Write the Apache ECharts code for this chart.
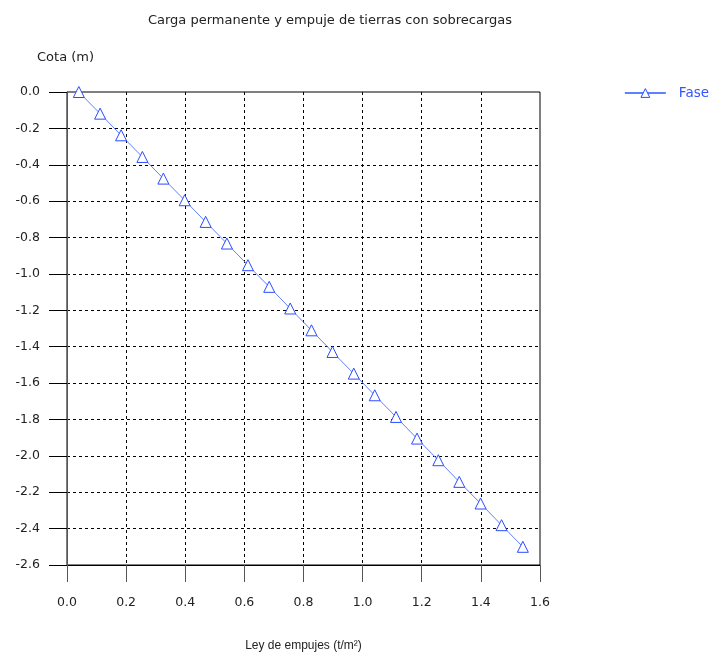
<!DOCTYPE html>
<html>
<head>
<meta charset="utf-8">
<script src="https://cdn.jsdelivr.net/npm/echarts@6/dist/echarts.min.js"></script>
<style>html,body{margin:0;padding:0;background:#fff}#c{width:715px;height:654px}</style>
</head>
<body>
<div id="c"></div>
<script>
const empuje = [0.040, 0.112, 0.183, 0.255, 0.326, 0.398, 0.469, 0.541, 0.612, 0.684, 0.755, 0.827, 0.898, 0.970, 1.041, 1.113, 1.184, 1.256, 1.327, 1.399, 1.470, 1.542];
const cota = [0.000, -0.119, -0.238, -0.357, -0.476, -0.595, -0.714, -0.833, -0.952, -1.071, -1.190, -1.310, -1.429, -1.548, -1.667, -1.786, -1.905, -2.024, -2.143, -2.262, -2.381, -2.500];
const seriesName = 'Fase';
const titleText = 'Carga permanente y empuje de tierras con sobrecargas';
const xName = 'Ley de empujes (t/m²)';
const yName = 'Cota (m)';

const chart = echarts.init(document.getElementById('c'), null, {renderer: 'canvas'});
const font = 'Liberation Sans, Arial, sans-serif';
const font2 = 'DejaVu Sans, sans-serif';
chart.setOption({
  animation: false,
  backgroundColor: '#fff',
  title: {
    text: titleText, left: 325, top: 9, textAlign: 'center',
    textStyle: {fontFamily: font2, fontSize: 13, fontWeight: 'normal', color: '#222'}
  },
  legend: {
    right: 1, top: 81, itemWidth: 41, itemHeight: 11, itemGap: 10,
    itemStyle: {borderWidth: 1, color: '#fff', borderColor: '#2a4cff'},
    textStyle: {fontFamily: font2, fontSize: 13.5, color: '#3355ff', padding: [0, 0, 0, 8]},
    data: [seriesName]
  },
  grid: {left: 67, right: 175, top: 92, bottom: 89, outerBoundsMode: 'none', containLabel: false,
    show: true, borderColor: '#000', borderWidth: 1, backgroundColor: 'transparent'},
  xAxis: {
    type: 'value', min: 0, max: 1.6, interval: 0.2,
    name: xName, nameLocation: 'middle', nameGap: 75,
    nameTextStyle: {fontFamily: font, fontSize: 12, color: '#222'},
    axisLine: {show: true, onZero: false, lineStyle: {color: '#000'}},
    axisTick: {show: true, length: 17, lineStyle: {color: '#555'}},
    axisLabel: {fontFamily: font2, fontSize: 12.5, color: '#222', margin: 31, formatter: v => v.toFixed(1)},
    splitLine: {show: true, showMinLine: false, showMaxLine: false, lineStyle: {color: '#000', type: [3, 3]}}
  },
  yAxis: {
    type: 'value', min: -2.6, max: 0, interval: 0.2,
    name: yName, nameLocation: 'end', nameGap: 28,
    nameTextStyle: {fontFamily: font2, fontSize: 13, color: '#222', align: 'left', padding: [0, 0, 0, -30]},
    axisLine: {show: true, onZero: false, lineStyle: {color: '#555'}},
    axisTick: {show: true, length: 18, lineStyle: {color: '#000'}},
    axisLabel: {fontFamily: font2, fontSize: 12.5, color: '#222', margin: 27, formatter: v => v.toFixed(1)},
    splitLine: {show: true, showMinLine: false, showMaxLine: false, lineStyle: {color: '#000', type: [3, 3]}}
  },
  series: [{
    name: seriesName, type: 'line',
    data: empuje.map((x, i) => [x, cota[i]]),
    symbol: 'triangle', symbolSize: 11, showAllSymbol: true,
    lineStyle: {color: '#6080ff', width: 1},
    itemStyle: {color: '#fff', borderColor: '#2a4cff', borderWidth: 1},
    color: '#6080ff'
  }]
});
</script>
</body>
</html>
